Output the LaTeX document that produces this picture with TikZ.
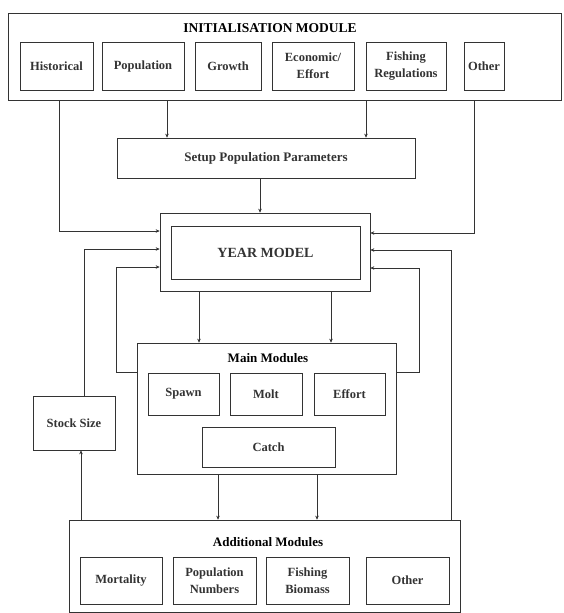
\documentclass[tikz,border=0pt]{standalone}
\usepackage{fontspec}
\setmainfont{Liberation Serif}
\usetikzlibrary{arrows.meta}
\begin{document}
\begin{tikzpicture}[x=1pt,y=-1pt,
	every node/.style = {align=center, inner sep=1pt, font=\fontsize{12.5}{17}\selectfont\bfseries},
	box/.style = {draw, line width=0.6pt, black!80},
	ttl/.style = {font=\fontsize{13.5}{15}\selectfont\bfseries},
	sub/.style = {font=\fontsize{13}{14}\selectfont\bfseries},
	arr/.style = {-{Stealth[length=4pt,width=3.5pt]}, line width=0.6pt, black!80}]
	\useasboundingbox (0,0) rectangle (563,613);
	
	\node[box, minimum width=553, minimum height=87] (init) at (284.5,56.5) {};
	\node[ttl] (initt) at (270,28) {INITIALISATION MODULE};
	\node[box, minimum width=73, minimum height=48] (hist) at (56.5,66) {Historical};
	\node[box, minimum width=82, minimum height=48] (pop) at (143,66) {Population};
	\node[box, minimum width=66, minimum height=48] (grow) at (228,66) {Growth};
	\node[box, minimum width=82, minimum height=48] (econ) at (313,66) {Economic/\\Effort};
	\node[box, minimum width=80, minimum height=48] (regs) at (406,66) {Fishing\\Regulations};
	\node[box, minimum width=40, minimum height=48] (oth) at (484,66) {Other};
	
	\node[box, sub, minimum width=298, minimum height=40] (setup) at (266,158) {Setup Population Parameters};
	
	\node[box, minimum width=210, minimum height=78] (yr) at (265,252) {};
	\node[box, minimum width=189, minimum height=53, font=\fontsize{14}{15}\selectfont\bfseries] (yri) at (265.5,252.5) {YEAR MODEL};
	
	\node[box, minimum width=259, minimum height=131] (main) at (266.5,408.5) {};
	\node[sub] (maint) at (268,358) {Main Modules};
	\node[box, minimum width=71, minimum height=42] (spawn) at (183.5,394) {Spawn};
	\node[box, minimum width=72, minimum height=42] (molt) at (266,394) {Molt};
	\node[box, minimum width=71, minimum height=42] (eff) at (349.5,394) {Effort};
	\node[box, minimum width=133, minimum height=40] (catch) at (268.5,447) {Catch};
	
	\node[box, minimum width=82, minimum height=54] (stock) at (74,423) {Stock Size};
	
	\node[box, minimum width=391, minimum height=92] (add) at (264.5,566) {};
	\node[sub] (addt) at (268,542) {Additional Modules};
	\node[box, minimum width=82, minimum height=47] (mort) at (121,580.5) {Mortality};
	\node[box, minimum width=83, minimum height=47] (popn) at (214.5,580.5) {Population\\Numbers};
	\node[box, minimum width=83, minimum height=47] (bio) at (307.5,580.5) {Fishing\\Biomass};
	\node[box, minimum width=83, minimum height=47] (oth2) at (407.5,580.5) {Other};
	
	\draw[arr] (init.south -| 59,0) |- (yr.west |- 0,231);
	\draw[arr] (init.south -| 167,0) -- (setup.north -| 167,0);
	\draw[arr] (init.south -| 366,0) -- (setup.north -| 366,0);
	\draw[arr] (init.south -| 474,0) |- (yr.east |- 0,233);
	\draw[arr] (setup.south -| 260,0) -- (yr.north -| 260,0);
	\draw[arr] (yr.south -| 199,0) -- (main.north -| 199,0);
	\draw[arr] (yr.south -| 331,0) -- (main.north -| 331,0);
	\draw[arr] (main.west |- 0,372) -- (116,372) |- (yr.west |- 0,267);
	\draw[arr] (main.east |- 0,372) -- (419,372) |- (yr.east |- 0,268);
	\draw[arr] (stock.north -| 84,0) |- (yr.west |- 0,249);
	\draw[arr] (add.north -| 81,0) -- (stock.south -| 81,0);
	\draw[arr] (main.south -| 218,0) -- (add.north -| 218,0);
	\draw[arr] (main.south -| 317,0) -- (add.north -| 317,0);
	\draw[arr] (add.north -| 451,0) |- (yr.east |- 0,250);
\end{tikzpicture}
\end{document}
